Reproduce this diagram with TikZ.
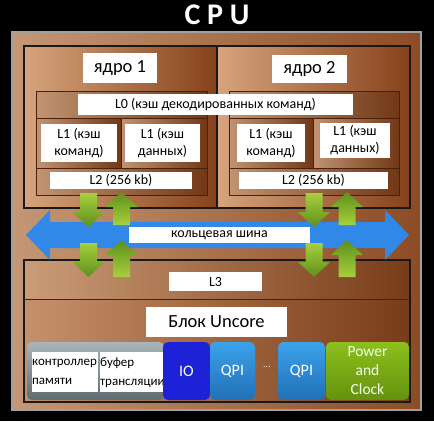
\documentclass[tikz,border=0pt]{standalone}
\usepackage{fontspec}
\setmainfont{Carlito}
\definecolor{gLight}{HTML}{A6D03C}
\definecolor{gDark}{HTML}{5F8F1C}
\definecolor{busBlue}{HTML}{3088E8}
\definecolor{lineDark}{HTML}{4A2008}
\definecolor{frameGrey}{HTML}{A0A0A0}
\definecolor{ioBlue}{HTML}{1E22D6}
\definecolor{qpiA}{HTML}{3BA2EA}
\definecolor{qpiB}{HTML}{2270B6}
\definecolor{pwrA}{HTML}{8CC01C}
\definecolor{pwrB}{HTML}{64920E}
\definecolor{greyA}{HTML}{A8B6BA}
\definecolor{greyB}{HTML}{5E6C72}
\newcommand{\gArrDown}[3]{%
  \shade[top color=gLight, bottom color=gDark]
    (#1-8.5,#2) -- (#1+8.5,#2) -- (#1+8.5,#3-15) -- (#1+16,#3-15) -- (#1,#3)
    -- (#1-16,#3-15) -- (#1-8.5,#3-15) -- cycle;}
\newcommand{\gArrUp}[3]{%
  \shade[top color=gDark, bottom color=gLight]
    (#1-8.5,#3) -- (#1+8.5,#3) -- (#1+8.5,#2+15) -- (#1+16,#2+15) -- (#1,#2)
    -- (#1-16,#2+15) -- (#1-8.5,#2+15) -- cycle;}
\begin{document}
\begin{tikzpicture}[x=1pt,y=-1pt,
  wbox/.style={fill=white, inner sep=0pt, align=center, text=black},
  colbox/.style={rounded corners=5pt, inner sep=0pt, align=center, text=white},
  f13/.style={font=\fontsize{14}{17}\selectfont},
  f17/.style={font=\fontsize{18.5}{20}\selectfont},
]
\definecolor{brL}{HTML}{D6A47E}
\definecolor{brD}{HTML}{86421A}
\useasboundingbox (0,0) rectangle (434,421);
\fill[black] (0,0) rectangle (434,421);
% title
\node[text=white, font=\fontsize{30}{30}\bfseries] (title) at (217,15) {C P U};
% outer frame
\shade[left color=brL!92!black, right color=brD!95!white] (12,32) rectangle (421,410);
\draw[frameGrey, line width=1.5pt] (12,32) rectangle (421,410);
% core block
\shade[left color=brL, right color=brD] (24,46) rectangle (217,208);
\shade[left color=brL, right color=brD] (217,46) rectangle (410,208);
\draw[black!90, line width=1.6pt] (24,46) rectangle (410,208);
\draw[black!90, line width=1.6pt] (217,46) -- (217,208);
% inner core blocks: rows
\foreach \xa/\xb/\xm in {36/207/121, 229/399/313}{
  \shade[left color=brL!90!black, right color=brD!85!black] (\xa,91) rectangle (\xb,118);
  \shade[left color=brL!90!black, right color=brD!85!black] (\xa,118) rectangle (\xm,168);
  \shade[left color=brL!90!black, right color=brD!85!black] (\xm,118) rectangle (\xb,168);
  \shade[left color=brL!90!black, right color=brD!85!black] (\xa,168) rectangle (\xb,195);
  \draw[lineDark, line width=0.8pt] (\xa,91) rectangle (\xb,195);
  \draw[lineDark, line width=0.8pt] (\xa,118) -- (\xb,118) (\xa,168) -- (\xb,168) (\xm,118) -- (\xm,168);
}
% L3 block
\shade[left color=brL!95!black, right color=brD!90!black] (24,260) rectangle (410,299);
\shade[left color=brL!80!brD, right color=brD!90!black] (24,299) rectangle (410,402);
\draw[black!90, line width=1.6pt] (24,260) rectangle (410,402);
\draw[lineDark, line width=1pt] (24,299) -- (410,299);
% white labels
\node[wbox, f17, minimum width=74, minimum height=30] (core1) at (120,68) {ядро 1};
\node[wbox, f17, minimum width=75, minimum height=28] (core2) at (309.5,69) {ядро 2};
\node[wbox, f13, minimum width=275, minimum height=21] (l0) at (215.5,104.5) {L0 (кэш декодированных команд)};
\node[wbox, f13, minimum width=76, minimum height=38] (l1ia) at (79,143) {L1 (кэш\\команд)};
\node[wbox, f13, minimum width=75, minimum height=38] (l1da) at (162.5,143) {L1 (кэш\\данных)};
\node[wbox, f13, minimum width=68, minimum height=38] (l1ib) at (271,143) {L1 (кэш\\команд)};
\node[wbox, f13, minimum width=70, minimum height=35] (l1db) at (355,140.5) {L1 (кэш\\данных)};
\node[wbox, f13, minimum width=142, minimum height=17] (l2a) at (121,180.5) {L2 (256 kb)};
\node[wbox, f13, minimum width=149, minimum height=17] (l2b) at (313.5,180.5) {L2 (256 kb)};
% ring bus
\fill[busBlue] (26,235) -- (50,210) -- (50,222) -- (385,222) -- (385,210) -- (409,235)
  -- (385,260) -- (385,248) -- (50,248) -- (50,260) -- cycle;
\node[wbox, f13, minimum width=181, minimum height=16] (bus) at (219.5,235) {кольцевая шина};
\node[wbox, f13, minimum width=93, minimum height=19] (l3) at (215.5,281.5) {L3};
\node[wbox, f17, minimum width=141, minimum height=30] (uncore) at (216.5,322) {Блок Uncore};
% bottom row
\shade[rounded corners=5pt, top color=greyA, bottom color=greyB] (27,342) rectangle (164,400);
\node[wbox, font=\fontsize{13}{19}\selectfont, align=left, anchor=north west, minimum width=66, minimum height=40, text width=66] (mem) at (32,352) {контроллер\\памяти};
\node[wbox, font=\fontsize{13}{19}\selectfont, align=left, anchor=north west, minimum width=64, minimum height=40, text width=64] (tlb) at (100,352) {буфер\\трансляции};
\node[colbox, fill=ioBlue, minimum width=47, minimum height=58, font=\fontsize{16}{18}\selectfont] (io) at (186.5,371) {IO};
\node[colbox, top color=qpiA, bottom color=qpiB, minimum width=45, minimum height=58, font=\fontsize{16}{18}\selectfont] (qpi1) at (232.5,371) {QPI};
\node[text=white!90!gray, font=\fontsize{10}{10}\selectfont, inner sep=0pt] (dots) at (267,367) {...};
\node[colbox, top color=qpiA, bottom color=qpiB, minimum width=47, minimum height=58, font=\fontsize{16}{18}\selectfont] (qpi2) at (301.5,371) {QPI};
\node[colbox, top color=pwrA, bottom color=pwrB, minimum width=83, minimum height=58, text=white!95!green, font=\fontsize{15.5}{19}\selectfont] (pwr) at (367.5,371) {Power\\and\\Clock};
% green arrows
\gArrDown{88.5}{193}{227}
\gArrUp{121.5}{192}{225}
\gArrDown{88.5}{243}{277}
\gArrUp{121.5}{240}{277}
\gArrDown{314}{193}{227}
\gArrUp{347}{192}{225}
\gArrDown{314}{243}{277}
\gArrUp{347}{240}{277}
\end{tikzpicture}
\end{document}
